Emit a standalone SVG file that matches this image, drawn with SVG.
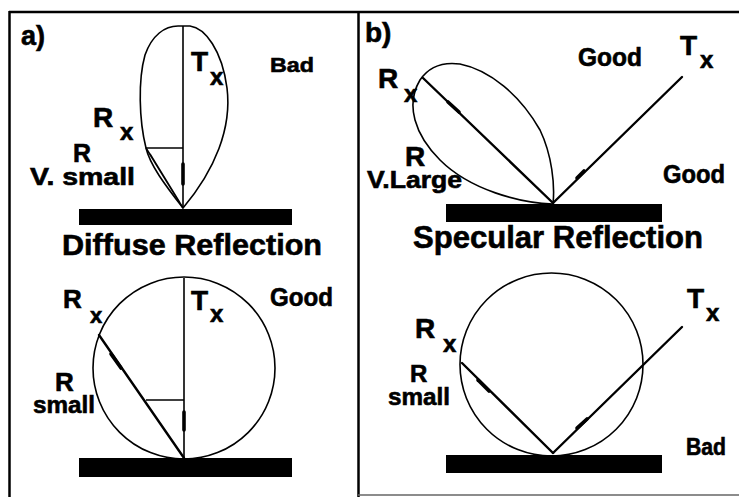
<svg xmlns="http://www.w3.org/2000/svg" width="739" height="497" viewBox="0 0 739 497">
<style>
.t{font-family:"Liberation Sans",Arial,Helvetica,sans-serif;font-weight:bold;fill:#000;stroke:#000;stroke-width:0.6}
.big{font-size:28px}
.sub{font-size:24px}
.lbl{font-size:24px}
.ttl{font-size:30px}
.ln{stroke:#000;stroke-width:1.6;fill:none}
.ray{stroke:#000;stroke-width:2.4;fill:none;stroke-linecap:round}
.thk{stroke:#000;stroke-width:3.6;fill:none;stroke-linecap:round}
.fr{stroke:#000;stroke-width:2.5;fill:none}
</style>
<rect x="0" y="0" width="739" height="497" fill="#fff"/>
<g id="frame">
  <line class="fr" x1="9" y1="12" x2="739" y2="12"/>
  <line class="fr" x1="9.5" y1="11" x2="9.5" y2="497"/>
  <line class="fr" x1="358.5" y1="11" x2="358.5" y2="497"/>
  <line x1="358" y1="495" x2="739" y2="495" stroke="#666" stroke-width="1.5"/>
</g>

<g id="panel-a-diffuse">
  <text class="t" x="21" y="45" font-size="27">a)</text>
  <rect x="79" y="209" width="213" height="16" fill="#000"/>
  <path class="ln" d="M183,208 C165,185 150,165 146,148 C139,120 138,80 145,55 C152,35 165,26 178,26 L190,26 C205,28 222,50 227,88 C232,128 215,170 183,208 Z"/>
  <line class="ln" x1="183" y1="26" x2="183" y2="208"/>
  <line class="thk" x1="183" y1="164" x2="183" y2="184" stroke-width="3"/>
  <line class="ln" x1="146" y1="148" x2="183" y2="148"/>
  <path class="ln" d="M146,148 L183,208 M150,154 L180,203" stroke-width="1.3"/>
  <text class="t big" x="191" y="71">T</text>
  <text class="t sub" x="210" y="85">x</text>
  <text class="t" x="270" y="72" font-size="21" textLength="44" lengthAdjust="spacingAndGlyphs">Bad</text>
  <text class="t big" x="93" y="127">R</text>
  <text class="t sub" x="120" y="140">x</text>
  <text class="t" x="73" y="162" font-size="25">R</text>
  <text class="t" x="30" y="185" font-size="24" textLength="105" lengthAdjust="spacingAndGlyphs">V. small</text>
  <text class="t ttl" x="62" y="255" textLength="260" lengthAdjust="spacingAndGlyphs">Diffuse Reflection</text>
</g>

<g id="panel-a-lambert">
  <rect x="79" y="458" width="213" height="19" fill="#000"/>
  <circle class="ln" cx="184" cy="368" r="91"/>
  <line class="ln" x1="184" y1="278" x2="184" y2="458" stroke-width="2.2"/>
  <line class="thk" x1="184" y1="412" x2="184" y2="430"/>
  <line class="ln" x1="146" y1="400" x2="184" y2="400"/>
  <line class="ray" x1="99" y1="335" x2="184" y2="458"/>
  <line class="thk" x1="111" y1="354" x2="121" y2="368"/>
  <text class="t big" x="191" y="310">T</text>
  <text class="t sub" x="210" y="322">x</text>
  <text class="t" x="270" y="306" font-size="25" textLength="63" lengthAdjust="spacingAndGlyphs">Good</text>
  <text class="t" x="63" y="308" font-size="26">R</text>
  <text class="t" x="90" y="323" font-size="22">x</text>
  <text class="t" x="55" y="391" font-size="26">R</text>
  <text class="t lbl" x="33" y="413" textLength="62" lengthAdjust="spacingAndGlyphs">small</text>
</g>

<g id="panel-b-specular">
  <text class="t" x="365" y="42" font-size="28">b)</text>
  <rect x="446" y="204" width="216" height="18" fill="#000"/>
  <path class="ln" d="M553,204 C520,203 470,190 440,160 C415,135 405,105 420,80 C430,65 445,62 460,64 C490,70 520,95 540,130 C552,155 555,185 553,204 Z"/>
  <line class="ray" x1="423" y1="78" x2="553" y2="203"/>
  <line class="thk" x1="448" y1="102" x2="459" y2="112"/>
  <line class="ray" x1="553" y1="203" x2="682" y2="77"/>
  <line class="thk" x1="577" y1="178" x2="584" y2="171"/>
  <text class="t big" x="680" y="55">T</text>
  <text class="t sub" x="700" y="68">x</text>
  <text class="t" x="578" y="66" font-size="25" textLength="64" lengthAdjust="spacingAndGlyphs">Good</text>
  <text class="t" x="663" y="183" font-size="25" textLength="62" lengthAdjust="spacingAndGlyphs">Good</text>
  <text class="t big" x="378" y="88">R</text>
  <text class="t sub" x="404" y="102">x</text>
  <text class="t big" x="405" y="166">R</text>
  <text class="t" x="367" y="188" font-size="23" textLength="95" lengthAdjust="spacingAndGlyphs">V.Large</text>
  <text class="t" x="413" y="248" font-size="31" textLength="290" lengthAdjust="spacingAndGlyphs">Specular Reflection</text>
</g>

<g id="panel-b-lambert">
  <rect x="446" y="455" width="216" height="18" fill="#000"/>
  <circle class="ln" cx="551.5" cy="364.5" r="91.5"/>
  <line class="ray" x1="462" y1="363" x2="553" y2="453"/>
  <line class="thk" x1="478" y1="380" x2="489" y2="391"/>
  <line class="ray" x1="553" y1="453" x2="682" y2="327"/>
  <line class="thk" x1="577" y1="428" x2="587" y2="419"/>
  <text class="t big" x="687" y="308">T</text>
  <text class="t sub" x="706" y="321">x</text>
  <text class="t big" x="415" y="338">R</text>
  <text class="t sub" x="443" y="352">x</text>
  <text class="t" x="410" y="382" font-size="24">R</text>
  <text class="t lbl" x="388" y="405" textLength="62" lengthAdjust="spacingAndGlyphs">small</text>
  <text class="t" x="686" y="455" font-size="23" textLength="40" lengthAdjust="spacingAndGlyphs">Bad</text>
</g>
</svg>
